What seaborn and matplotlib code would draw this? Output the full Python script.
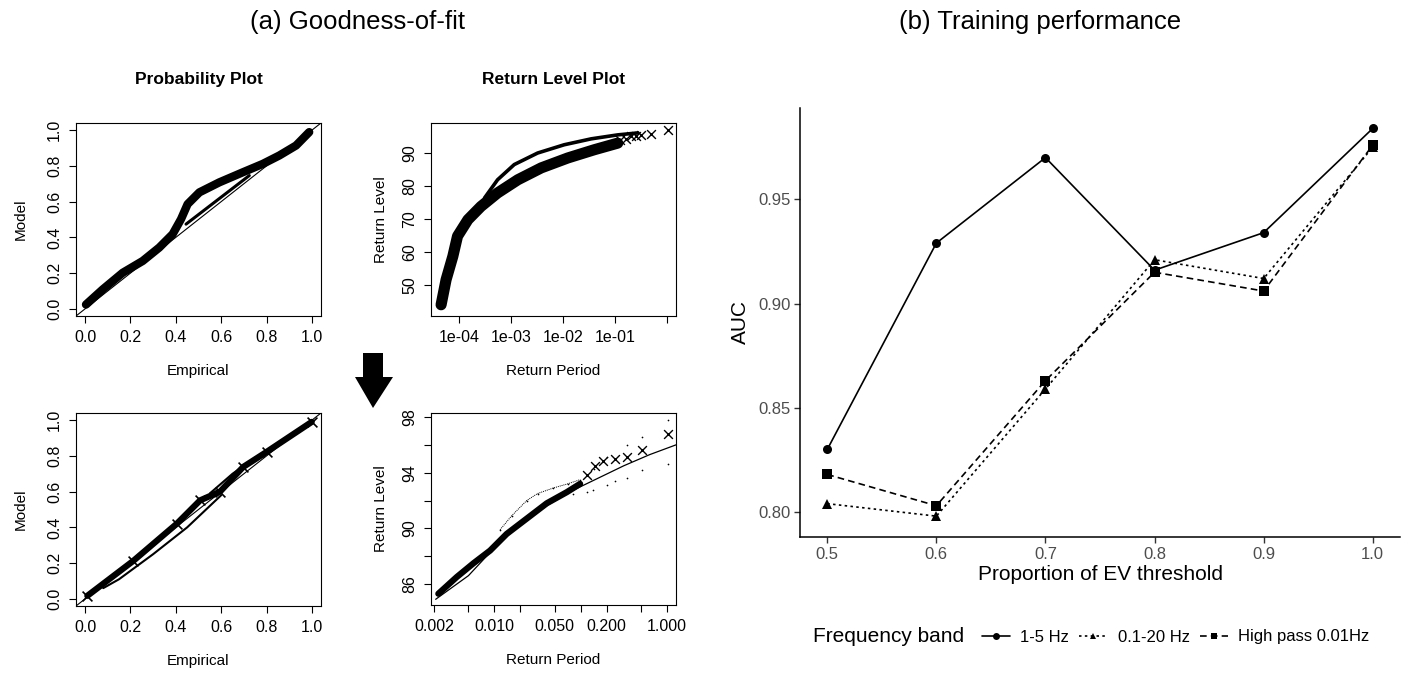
import numpy as np
import pandas as pd
import matplotlib
matplotlib.use("Agg")
import matplotlib.pyplot as plt
from matplotlib.lines import Line2D
from matplotlib.patches import Polygon
import seaborn as sns

sns.set_theme(style="white")
plt.rcParams['font.family'] = ['Liberation Sans', 'DejaVu Sans']
plt.rcParams['text.color'] = 'black'
plt.rcParams['axes.labelcolor'] = 'black'
plt.rcParams['xtick.color'] = 'black'
plt.rcParams['ytick.color'] = 'black'

# ---------------- data: (a) goodness-of-fit ----------------
# top-left probability plot (empirical, model)
pp1_band_x = [0.004, 0.078, 0.166, 0.254, 0.327, 0.386, 0.423, 0.452, 0.504, 0.592, 0.695, 0.783, 0.856, 0.930, 0.988]
pp1_band_y = [0.024, 0.109, 0.202, 0.268, 0.343, 0.418, 0.502, 0.586, 0.652, 0.708, 0.764, 0.811, 0.858, 0.914, 0.989]
pp1_thin_x = [0.445, 0.724]
pp1_thin_y = [0.474, 0.746]
ref_diag = [-0.1, 1.1]

# top-right return level plot (log10 return period, return level)
rl1_model_lx = [-3.51, -3.26, -2.94, -2.49, -1.98, -1.46, -0.95, -0.56]
rl1_model_y = [76.4, 81.9, 86.5, 90.0, 92.5, 94.3, 95.5, 96.1]
rl1_band_lx = [-4.346, -4.25, -4.12, -4.03, -3.83, -3.58, -3.26, -2.87, -2.42, -1.91, -1.40, -0.95]
rl1_band_y = [44.0, 51.6, 58.7, 64.8, 69.8, 73.8, 77.9, 81.9, 85.5, 88.5, 91.0, 93.0]
rl1_pts_lx = [-0.90, -0.80, -0.69, -0.60, -0.50, -0.31, 0.01]
rl1_pts_y = [94.0, 94.4, 95.1, 95.2, 95.4, 95.8, 97.1]

# bottom-left probability plot
pp2_band_x = [0.010, 0.213, 0.404, 0.507, 0.595, 0.697, 0.800, 0.999]
pp2_band_y = [0.017, 0.213, 0.420, 0.551, 0.600, 0.738, 0.822, 0.990]
pp2_low_x = [0.08, 0.15, 0.30, 0.45, 0.60]
pp2_low_y = [0.06, 0.11, 0.25, 0.40, 0.58]
pp2_up_x = [0.55, 0.65, 0.75, 0.85]
pp2_up_y = [0.59, 0.70, 0.79, 0.87]

# bottom-right return level plot
rl2_model_lx = [-2.68, -2.30, -2.00, -1.70, -1.40, -1.10, -0.80, -0.50, -0.20, 0.104]
rl2_model_y = [84.9, 86.6, 88.6, 90.3, 91.6, 92.7, 93.6, 94.5, 95.3, 96.0]
rl2_up_lx = [-1.934, -1.80, -1.625, -1.50, -1.317, -1.15, -1.007, -0.85, -0.698, -0.466, -0.293, 0.016]
rl2_up_y = [89.9, 90.9, 92.0, 92.5, 92.9, 93.2, 93.5, 94.3, 95.1, 96.0, 96.6, 97.8]
rl2_low_lx = [-1.085, -0.93, -0.853, -0.70, -0.602, -0.466, -0.293, 0.016]
rl2_low_y = [92.5, 92.6, 92.75, 93.1, 93.4, 93.65, 94.2, 94.6]
rl2_band_lx = [-2.649, -2.436, -2.24, -2.05, -1.857, -1.625, -1.393, -1.161, -1.007]
rl2_band_y = [85.3, 86.5, 87.5, 88.4, 89.6, 90.7, 91.8, 92.6, 93.2]
rl2_pts_lx = [-0.93, -0.834, -0.737, -0.602, -0.466, -0.293, 0.016]
rl2_pts_y = [93.8, 94.5, 94.85, 94.95, 95.1, 95.6, 96.8]

# ---------------- data: (b) training performance ----------------
proportion = [0.5, 0.6, 0.7, 0.8, 0.9, 1.0]
auc_1_5 = [0.830, 0.929, 0.970, 0.916, 0.934, 0.984]
auc_01_20 = [0.804, 0.798, 0.859, 0.921, 0.912, 0.975]
auc_hp = [0.818, 0.803, 0.863, 0.915, 0.906, 0.976]
bands = ["1-5 Hz", "0.1-20 Hz", "High pass 0.01Hz"]
x_ticks_b = [0.5, 0.6, 0.7, 0.8, 0.9, 1.0]
y_ticks_b = [0.80, 0.85, 0.90, 0.95]

W, H = 1408, 677
fig = plt.figure(figsize=(W / 100, H / 100), dpi=100)


def ax_px(l, t, r, b):
    return fig.add_axes([l / W, 1 - b / H, (r - l) / W, (b - t) / H])


def r_style(ax, fs=11.5):
    for s in ax.spines.values():
        s.set_visible(True)
        s.set_color("black")
        s.set_linewidth(0.8)
    ax.tick_params(axis="both", direction="out", length=5, width=0.8,
                   colors="black", labelsize=fs, pad=5, left=True, bottom=True)
    for lab in ax.get_yticklabels():
        lab.set_rotation(90)
        lab.set_va("center")
    ax.grid(False)


# ---- top-left ----
ax1 = ax_px(76, 123, 321, 316)
sns.lineplot(x=ref_diag, y=ref_diag, ax=ax1, color="black", lw=0.8)
sns.lineplot(x=pp1_band_x, y=pp1_band_y, ax=ax1, color="black", lw=6.0, sort=False)
sns.lineplot(x=pp1_thin_x, y=pp1_thin_y, ax=ax1, color="black", lw=2.2, sort=False)
ax1.set_xlim(-0.04, 1.04)
ax1.set_ylim(-0.04, 1.04)
ax1.set_xticks([0, 0.2, 0.4, 0.6, 0.8, 1.0])
ax1.set_yticks([0, 0.2, 0.4, 0.6, 0.8, 1.0])
ax1.set_xticklabels(["0.0", "0.2", "0.4", "0.6", "0.8", "1.0"])
ax1.set_yticklabels(["0.0", "0.2", "0.4", "0.6", "0.8", "1.0"])
r_style(ax1)
ax1.set_xlabel("Empirical", fontsize=11, labelpad=14)
ax1.set_ylabel("Model", fontsize=11, labelpad=14)
ax1.set_title("Probability Plot", fontsize=12.5, fontweight="bold", pad=28)

# ---- top-right ----
ax2 = ax_px(431, 123, 676, 316)
sns.lineplot(x=np.power(10.0, rl1_model_lx), y=rl1_model_y, ax=ax2, color="black", lw=2.6, sort=False)
sns.lineplot(x=np.power(10.0, rl1_band_lx), y=rl1_band_y, ax=ax2, color="black", lw=8, sort=False)
sns.scatterplot(x=np.power(10.0, rl1_pts_lx), y=rl1_pts_y, ax=ax2, marker="x", color="black",
                s=40, linewidth=1.0)
ax2.set_xscale("log")
ax2.set_xlim(10 ** -4.54, 10 ** 0.17)
ax2.set_ylim(40.6, 99.1)
ax2.set_xticks([1e-4, 1e-3, 1e-2, 1e-1, 1])
ax2.set_xticklabels(["1e-04", "1e-03", "1e-02", "1e-01", ""])
ax2.minorticks_off()
ax2.set_yticks([50, 60, 70, 80, 90])
ax2.set_yticklabels(["50", "60", "70", "80", "90"])
r_style(ax2)
ax2.set_xlabel("Return Period", fontsize=11, labelpad=14)
ax2.set_ylabel("Return Level", fontsize=11, labelpad=10)
ax2.set_title("Return Level Plot", fontsize=12.5, fontweight="bold", pad=28)

# ---- bottom-left ----
ax3 = ax_px(76, 413, 321, 606)
sns.lineplot(x=ref_diag, y=ref_diag, ax=ax3, color="black", lw=0.8)
sns.lineplot(x=pp2_low_x, y=pp2_low_y, ax=ax3, color="black", lw=1.5, sort=False)
sns.lineplot(x=pp2_up_x, y=pp2_up_y, ax=ax3, color="black", lw=1.5, sort=False)
sns.lineplot(x=pp2_band_x, y=pp2_band_y, ax=ax3, color="black", lw=4.5, sort=False)
sns.scatterplot(x=pp2_band_x, y=pp2_band_y, ax=ax3, marker="x", color="black", s=50, linewidth=1.2)
ax3.set_xlim(-0.04, 1.04)
ax3.set_ylim(-0.04, 1.04)
ax3.set_xticks([0, 0.2, 0.4, 0.6, 0.8, 1.0])
ax3.set_yticks([0, 0.2, 0.4, 0.6, 0.8, 1.0])
ax3.set_xticklabels(["0.0", "0.2", "0.4", "0.6", "0.8", "1.0"])
ax3.set_yticklabels(["0.0", "0.2", "0.4", "0.6", "0.8", "1.0"])
r_style(ax3)
ax3.set_xlabel("Empirical", fontsize=11, labelpad=14)
ax3.set_ylabel("Model", fontsize=11, labelpad=14)

# ---- bottom-right ----
ax4 = ax_px(431, 413, 676, 605)
sns.lineplot(x=np.power(10.0, rl2_model_lx), y=rl2_model_y, ax=ax4, color="black", lw=0.9, sort=False)
sns.scatterplot(x=np.power(10.0, rl2_up_lx), y=rl2_up_y, ax=ax4, marker=".", color="black", s=6, linewidth=0)
sns.scatterplot(x=np.power(10.0, rl2_low_lx), y=rl2_low_y, ax=ax4, marker=".", color="black", s=6, linewidth=0)
sns.lineplot(x=np.power(10.0, rl2_up_lx[:7]), y=rl2_up_y[:7], ax=ax4, color="black", lw=0.7,
             sort=False, linestyle=(0, (1, 1)))
sns.lineplot(x=np.power(10.0, rl2_band_lx), y=rl2_band_y, ax=ax4, color="black", lw=4.5, sort=False)
sns.scatterplot(x=np.power(10.0, rl2_pts_lx), y=rl2_pts_y, ax=ax4, marker="x", color="black",
                s=40, linewidth=1.0)
ax4.set_xscale("log")
ax4.set_xlim(10 ** -2.734, 10 ** 0.104)
ax4.set_ylim(84.49, 98.29)
ax4.set_xticks([0.002, 0.005, 0.01, 0.02, 0.05, 0.1, 0.2, 0.5, 1.0])
ax4.set_xticklabels(["0.002", "", "0.010", "", "0.050", "", "0.200", "", "1.000"])
ax4.minorticks_off()
ax4.set_yticks([86, 88, 90, 92, 94, 96, 98])
ax4.set_yticklabels(["86", "", "90", "", "94", "", "98"])
r_style(ax4)
ax4.set_xlabel("Return Period", fontsize=11, labelpad=14)
ax4.set_ylabel("Return Level", fontsize=11, labelpad=10)

# ---- arrow between rows ----
arrow_px = [(363, 353), (383, 353), (383, 377), (393, 377), (373, 408), (355, 377), (363, 377)]
fig.patches.append(Polygon([(x / W, 1 - y / H) for x, y in arrow_px], closed=True,
                           transform=fig.transFigure, facecolor="black", edgecolor="none"))

# ---- (b) training performance ----
ax5 = ax_px(800, 108, 1400, 537)
df = pd.DataFrame({
    "Proportion": proportion * 3,
    "AUC": auc_1_5 + auc_01_20 + auc_hp,
    "Frequency band": [bands[0]] * 6 + [bands[1]] * 6 + [bands[2]] * 6,
})
sns.lineplot(data=df, x="Proportion", y="AUC", hue="Frequency band", style="Frequency band",
             palette=["black"] * 3, dashes={bands[0]: "", bands[1]: (1.5, 2), bands[2]: (4, 2.5)},
             markers={bands[0]: "o", bands[1]: "^", bands[2]: "s"}, markersize=6.5,
             markeredgewidth=0, lw=1.2, ax=ax5, legend=False)
ax5.set_xlim(0.475, 1.025)
ax5.set_ylim(0.788, 0.9938)
ax5.set_xticks(x_ticks_b)
ax5.set_xticklabels(["0.5", "0.6", "0.7", "0.8", "0.9", "1.0"])
ax5.set_yticks(y_ticks_b)
ax5.set_yticklabels(["0.80", "0.85", "0.90", "0.95"])
for s in ["top", "right"]:
    ax5.spines[s].set_visible(False)
for s in ["left", "bottom"]:
    ax5.spines[s].set_color("black")
    ax5.spines[s].set_linewidth(1.1)
ax5.tick_params(axis="both", direction="out", length=4, width=1.0, color="#333333",
                labelcolor="#4D4D4D", labelsize=12, pad=3, left=True, bottom=True)
ax5.grid(False)
ax5.set_xlabel("Proportion of EV threshold", fontsize=15, labelpad=2)
ax5.set_ylabel("AUC", fontsize=15, labelpad=6)

handles = [
    Line2D([], [], color="black", lw=1.2, linestyle="-", marker="o", markersize=5, markeredgewidth=0),
    Line2D([], [], color="black", lw=1.2, linestyle=(0, (1.5, 2)), marker="^", markersize=5, markeredgewidth=0),
    Line2D([], [], color="black", lw=1.2, linestyle=(0, (4, 2.5)), marker="s", markersize=5, markeredgewidth=0),
]
fig.text(813 / W, 1 - 637 / H, "Frequency band", fontsize=15, va="center", ha="left")
fig.legend(handles, bands, loc="center left", bbox_to_anchor=(982 / W, 1 - 637 / H), ncol=3,
           frameon=False, fontsize=12, handlelength=1.7, handletextpad=0.6, columnspacing=0.6,
           borderaxespad=0, borderpad=0)

# ---- panel titles ----
fig.text(358 / W, 1 - 22 / H, "(a) Goodness-of-fit", fontsize=18.5, ha="center", va="center")
fig.text(1040 / W, 1 - 22 / H, "(b) Training performance", fontsize=18.5, ha="center", va="center")

fig.savefig("out.png", dpi=100)
